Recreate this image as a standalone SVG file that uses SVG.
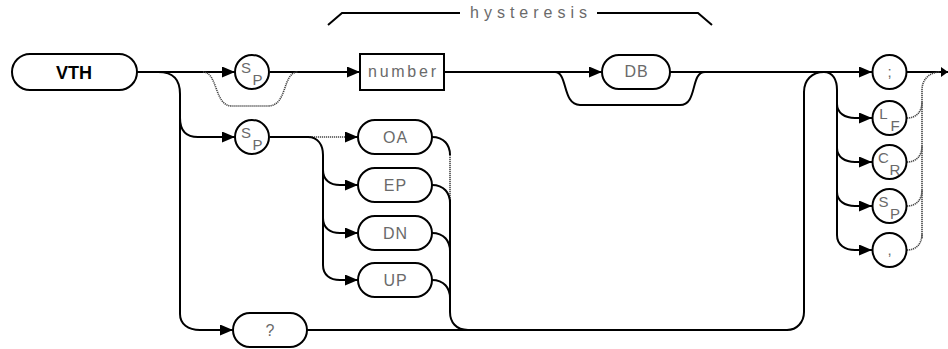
<svg xmlns="http://www.w3.org/2000/svg" width="948" height="349" viewBox="0 0 948 349">
<defs>
<marker id="arr" viewBox="0 0 13 11" refX="13" refY="5.5" markerWidth="13" markerHeight="11" markerUnits="userSpaceOnUse" orient="auto">
<path d="M0,0 L13,5.5 L0,11 Z" fill="#000"/>
</marker>
<marker id="arrs" viewBox="0 0 7 10" refX="7" refY="5" markerWidth="7" markerHeight="10" markerUnits="userSpaceOnUse" orient="auto">
<path d="M0,0 L7,5 L0,10 Z" fill="#000"/>
</marker>
</defs>
<style>
.l{fill:none;stroke:#000;stroke-width:2}
.d{fill:none;stroke:#444;stroke-width:1.6;stroke-dasharray:1.2 0.8}
.n{fill:#fff;stroke:#000;stroke-width:2}
.t{font-family:"Liberation Sans",Arial,sans-serif;font-size:16px;fill:#6a6a6a;text-anchor:middle;letter-spacing:1px}
.s{font-family:"Liberation Sans",Arial,sans-serif;font-size:15px;fill:#6a6a6a;text-anchor:middle}
.b{font-family:"Liberation Sans",Arial,sans-serif;font-size:18px;fill:#000;text-anchor:middle;font-weight:bold}
</style>
<rect width="948" height="349" fill="#fff"/>
<g id="connectors">
<path class="l" d="M137,72 H235" marker-end="url(#arr)"/>
<path class="l" d="M270,72 H360" marker-end="url(#arr)"/>
<path class="l" d="M444,72 H602" marker-end="url(#arr)"/>
<path class="l" d="M670,72 H872" marker-end="url(#arr)"/>
<path class="l" d="M907,72 H948" marker-end="url(#arrs)"/>
<path class="d" d="M203,72 C218,72 214,106 232,106 H268 C288,106 282,72 298,72"/>
<path class="l" d="M555,72 C568,72 562,105 580,105 H680 C698,105 690,72 705,72"/>
<path class="l" d="M158,72 C174,72 180,80 180,94 V314 C180,324 188,330 200,330 H233" marker-end="url(#arr)"/>
<path class="l" d="M180,118 C180,130 186,137 198,137 H235" marker-end="url(#arr)"/>
<path class="l" d="M270,137 H308"/>
<path class="d" d="M308,137 H346"/>
<path class="l" d="M345,137 H358" marker-end="url(#arr)"/>
<path class="l" d="M308,137 C318,137 323,145 323,155 V265 C323,275 330,280 340,280 H358" marker-end="url(#arr)"/>
<path class="l" d="M323,170 C323,180 330,185 340,185 H358" marker-end="url(#arr)"/>
<path class="l" d="M323,218 C323,228 330,233 340,233 H358" marker-end="url(#arr)"/>
<path class="l" d="M432,137 C444,137 450,145 450,155"/>
<path class="d" d="M450,155 V201"/>
<path class="l" d="M432,185 C444,185 450,193 450,203"/>
<path class="l" d="M432,233 C444,233 450,241 450,251"/>
<path class="l" d="M432,280 C444,280 450,288 450,298"/>
<path class="l" d="M450,200 V312 C450,322 456,330 468,330 H787 C797,330 804,322 804,312 V92 C804,80 812,72 824,72"/>
<path class="l" d="M307,330 H470"/>
<path class="l" d="M824,72 C833,72 837,80 837,90 V235 C837,245 845,250 855,250 H872" marker-end="url(#arr)"/>
<path class="l" d="M837,104 C837,113 845,118 855,118 H872" marker-end="url(#arr)"/>
<path class="l" d="M837,148 C837,157 845,162 855,162 H872" marker-end="url(#arr)"/>
<path class="l" d="M837,192 C837,201 845,206 855,206 H872" marker-end="url(#arr)"/>
<path class="d" d="M922,238 V90 C922,79 930,72 940,72"/>
<path class="d" d="M907,118 C916,118 922,112 922,102"/>
<path class="d" d="M907,162 C916,162 922,156 922,146"/>
<path class="d" d="M907,206 C916,206 922,200 922,190"/>
<path class="d" d="M907,250 C916,250 922,244 922,234"/>
</g>
<g id="hysteresis">
<path class="l" d="M328,25 L342,13 H460"/>
<path class="l" d="M597,13 H698 L712,25"/>
<text class="t" x="528.5" y="18" textLength="117" lengthAdjust="spacing" style="letter-spacing:0">hysteresis</text>
</g>
<g id="vth"><rect class="n" x="12" y="54" width="125" height="36" rx="18"/><text class="b" x="74" y="79">VTH</text></g>
<g id="sp1"><circle class="n" cx="252" cy="72" r="17"/><text class="s" x="246" y="73">S</text><text class="s" x="257.5" y="85">P</text></g>
<g id="number"><rect class="n" x="360" y="54" width="84" height="36"/><text class="t" x="402" y="77" textLength="68" lengthAdjust="spacing" style="letter-spacing:0">number</text></g>
<g id="db"><rect class="n" x="602" y="55" width="68" height="34" rx="17"/><text class="t" x="636.5" y="77">DB</text></g>
<g id="sp2"><circle class="n" cx="252" cy="137" r="17"/><text class="s" x="246" y="138">S</text><text class="s" x="257.5" y="150">P</text></g>
<g id="oa"><rect class="n" x="358" y="120" width="74" height="34" rx="17"/><text class="t" x="395.5" y="143">OA</text></g>
<g id="ep"><rect class="n" x="358" y="168" width="74" height="34" rx="17"/><text class="t" x="395.5" y="191">EP</text></g>
<g id="dn"><rect class="n" x="358" y="216" width="74" height="34" rx="17"/><text class="t" x="395.5" y="239">DN</text></g>
<g id="up"><rect class="n" x="358" y="263" width="74" height="34" rx="17"/><text class="t" x="395.5" y="286">UP</text></g>
<g id="q"><rect class="n" x="233" y="313" width="74" height="34" rx="17"/><text class="t" x="270.5" y="336">?</text></g>
<g id="semi"><circle class="n" cx="889.5" cy="72" r="17"/><text class="s" x="889.5" y="77">;</text></g>
<g id="lf"><circle class="n" cx="889.5" cy="118" r="17"/><text class="s" x="883.5" y="119">L</text><text class="s" x="895" y="131">F</text></g>
<g id="cr"><circle class="n" cx="889.5" cy="162" r="17"/><text class="s" x="883.5" y="163">C</text><text class="s" x="895" y="175">R</text></g>
<g id="sp3"><circle class="n" cx="889.5" cy="206" r="17"/><text class="s" x="883.5" y="207">S</text><text class="s" x="895" y="219">P</text></g>
<g id="comma"><circle class="n" cx="889.5" cy="250" r="17"/><text class="s" x="889.5" y="255">,</text></g>
</svg>
